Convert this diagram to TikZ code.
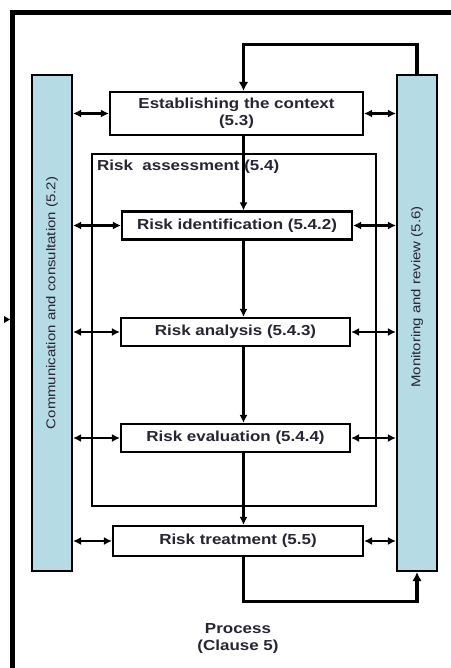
\documentclass[tikz,border=0pt]{standalone}
\usepackage{fontspec}
\setmainfont{Liberation Sans}[FakeStretch=1.17]
\usetikzlibrary{arrows.meta}
\definecolor{txt}{RGB}{40,36,50}
\definecolor{barblue}{RGB}{181,219,229}
\tikzset{
  procbox/.style={draw=black, line width=2.1pt, fill=white, text=txt,
    font=\bfseries\fontsize{14.5}{17}\selectfont, align=center, inner sep=0pt},
  bar/.style={draw=black, line width=2.1pt, fill=barblue, minimum width=40pt,
    minimum height=496pt, inner sep=0pt},
  bartext/.style={text=txt, font=\fontsize{12.8}{14}\selectfont, rotate=90, inner sep=0pt},
  arr/.style={line width=2.2pt, -{Latex[length=8pt,width=8pt]}},
  darr/.style={line width=2.2pt, {Latex[length=8pt,width=8pt]}-{Latex[length=8pt,width=8pt]}},
  thk/.style={line width=3.8pt, -{Latex[length=9pt,width=9.5pt]}},
  plain/.style={text=txt, font=\bfseries\fontsize{14.5}{17}\selectfont, align=center, inner sep=0pt}
}
\begin{document}
\begin{tikzpicture}[x=1pt,y=-1pt]
\useasboundingbox (0,0) rectangle (450,668);
\fill[white] (0,0) rectangle (450,668);
% outer frame
\draw[line width=4.8pt] (455,12.7) -- (12.5,12.7) -- (12.5,672);
\fill (4,316) -- (10,319.5) -- (4,323) -- cycle;
% bars
\node[bar] (lbar) at (52,323) {};
\node[bar] (rbar) at (417,323) {};
\node[bartext] (ltext) at (52,303) {Communication and consultation (5.2)};
\node[bartext] (rtext) at (417,297) {Monitoring and review (5.6)};
% risk assessment frame
\node[draw=black, line width=2.1pt, minimum width=284pt, minimum height=352pt, inner sep=0pt] (ra) at (234,330) {};
\node[plain, anchor=west] (ralabel) at (97,167) {Risk~~assessment (5.4)};
% process boxes
\node[procbox, minimum width=253pt, minimum height=43pt] (ctx) at (236.5,113.5) {Establishing the context\\(5.3)};
\node[procbox, minimum width=230pt, minimum height=28pt] (ident) at (237,225.5) {Risk identification (5.4.2)};
\node[procbox, minimum width=229pt, minimum height=28pt] (anal) at (235.5,332) {Risk analysis (5.4.3)};
\node[procbox, minimum width=229pt, minimum height=28pt] (eval) at (235.5,438) {Risk evaluation (5.4.4)};
\node[procbox, minimum width=250pt, minimum height=30pt] (treat) at (238,541) {Risk treatment (5.5)};
\node[plain] (proc) at (238,638.5) {Process\\(Clause 5)};
% helper coordinates
\coordinate (spine) at (243.5,0);
\coordinate (topy) at (0,44.5);
\coordinate (boty) at (0,601.5);
% vertical flow
\draw[arr] (ctx.south -| spine) -- (ident.north -| spine);
\draw[arr] (ident.south -| spine) -- (anal.north -| spine);
\draw[arr] (anal.south -| spine) -- (eval.north -| spine);
\draw[arr] (eval.south -| spine) -- (treat.north -| spine);
% loops
\draw[thk] (rbar.north) -- (rbar.north |- topy) -- (spine |- topy) -- (ctx.north -| spine);
\draw[thk] (treat.south -| spine) -- (spine |- boty) -- (rbar.south |- boty) -- (rbar.south);
% side arrows
\foreach \b in {ctx,ident,anal,eval,treat}{
  \draw[darr] (lbar.east |- \b) -- (\b.west);
  \draw[darr] (\b.east) -- (rbar.west |- \b);
}
\end{tikzpicture}
\end{document}
